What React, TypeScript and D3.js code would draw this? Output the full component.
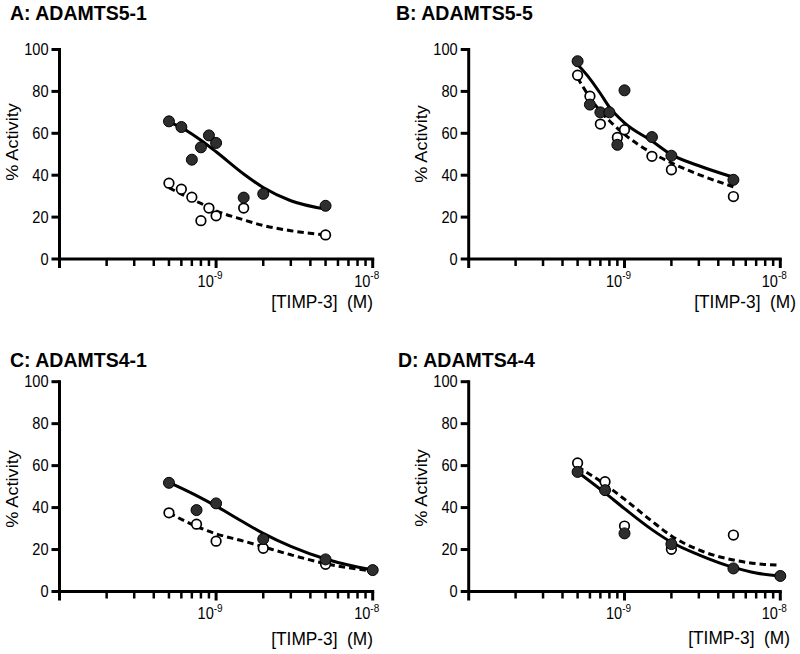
import * as d3 from "d3";

// concentration grids used for the fitted curves
const gridAB = [5e-10, 6e-10, 7e-10, 8e-10, 1e-9, 1.5e-9, 2e-9, 3e-9, 5e-9];
const gridCD = [5e-10, 7.5e-10, 1e-9, 1.5e-9, 2e-9, 3e-9, 5e-9, 7e-9, 1e-8];

// A: ADAMTS5-1
const concA = [5e-10, 6e-10, 7e-10, 8e-10, 9e-10, 1e-9, 1.5e-9, 2e-9, 5e-9];
const filledA = [65.7, 63.0, 47.4, 53.3, 59.0, 55.4, 29.3, 31.1, 25.4];
const openA = [36.2, 33.3, 29.5, 18.3, 24.3, 20.6, 24.3, null, 11.5];
const fitSolidA = [65.5, 62.7, 59.7, 56.7, 51.2, 40.6, 34.1, 27.8, 23.8];
const fitDashA = [34, 31, 28.5, 26.5, 23, 18.7, 16, 13.5, 11.5];

// B: ADAMTS5-5
const concB = [5e-10, 6e-10, 7e-10, 8e-10, 9e-10, 1e-9, 1.5e-9, 2e-9, 5e-9];
const filledB = [94.4, 73.7, 70.0, 70.0, 54.5, 80.5, 58.2, 49.3, 37.8];
const openB = [87.7, 77.7, 64.4, null, 58.0, 61.7, 49.0, 42.6, 29.8];
const fitSolidB = [92.8, 86, 79, 72.5, 65, 56.3, 49.8, 44.5, 39];
const fitDashB = [86.5, 77, 70.5, 66, 59.5, 50.6, 45.9, 40.3, 34.5];

// C: ADAMTS4-1
const concC = [5e-10, 7.5e-10, 1e-9, 2e-9, 5e-9, 1e-8];
const filledC = [51.8, 38.8, 42.0, 25.0, 15.3, 10.2];
const openC = [37.5, 32.1, 24.0, 20.6, 13.0, null];
const fitSolidC = [52, 45.7, 40.7, 33, 27.7, 21.5, 15.5, 12.6, 10.3];
const fitDashC = [37.5, 31, 27.5, 24, 21.3, 17.5, 13.3, 11.3, 9.8];

// D: ADAMTS4-4
const concD = [5e-10, 7.5e-10, 1e-9, 2e-9, 5e-9, 1e-8];
const filledD = [57.0, 48.3, 27.7, 22.6, 11.0, 7.4];
const openD = [61.3, 52.3, 31.2, 20.1, 26.9, null];
const fitSolidD = [57, 47, 39.5, 29.5, 23.5, 17.5, 11.5, 8.8, 7.4];
const fitDashD = [59.5, 51, 44, 33.5, 26.5, 19.8, 15, 13.3, 12.5];

const yTicks = [0, 20, 40, 60, 80, 100];
const xLabelTicks = [1e-9, 1e-8];
const FONT = "Liberation Sans, Arial, Helvetica, sans-serif";

const panels = [
  { title: "A: ADAMTS5-1", titleX: 10, titleY: 20, x0: 59.5, x1: 372.7, yTop: 49.5, yBot: 259,
    labX: 18, labY: 142, axX: 373, axY: 308,
    conc: concA, filled: filledA, open: openA, grid: gridAB, solid: fitSolidA, dashed: fitDashA },
  { title: "B: ADAMTS5-5", titleX: 396, titleY: 20, x0: 468.7, x1: 780.3, yTop: 49.5, yBot: 259,
    labX: 427, labY: 144, axX: 796, axY: 308,
    conc: concB, filled: filledB, open: openB, grid: gridAB, solid: fitSolidB, dashed: fitDashB },
  { title: "C: ADAMTS4-1", titleX: 10, titleY: 367, x0: 59.5, x1: 372.7, yTop: 381.7, yBot: 591.5,
    labX: 18, labY: 489, axX: 373, axY: 645,
    conc: concC, filled: filledC, open: openC, grid: gridCD, solid: fitSolidC, dashed: fitDashC },
  { title: "D: ADAMTS4-4", titleX: 398, titleY: 367, x0: 468.7, x1: 780.3, yTop: 381.7, yBot: 591.5,
    labX: 427, labY: 488, axX: 790, axY: 644,
    conc: concD, filled: filledD, open: openD, grid: gridCD, solid: fitSolidD, dashed: fitDashD },
];

function Panel({ p }) {
  const x = d3.scaleLog().domain([1e-10, 1e-8]).range([p.x0, p.x1]);
  const y = d3.scaleLinear().domain([0, 100]).range([p.yBot, p.yTop]);
  const fit = d3
    .line<number>()
    .x((_, i) => x(p.grid[i]))
    .y((d) => y(d))
    .curve(d3.curveMonotoneX);
  const isMajor = (t: number) => Math.abs(Math.log10(t) - Math.round(Math.log10(t))) < 1e-6;

  return (
    <g>
      <text x={p.titleX} y={p.titleY} fontFamily={FONT} fontWeight="bold" fontSize={19.5}>
        {p.title}
      </text>

      {/* y axis */}
      <line x1={p.x0} x2={p.x0} y1={p.yTop - 1.5} y2={p.yBot} stroke="#000" strokeWidth={3} />
      {yTicks.map((t) => (
        <g key={t}>
          <line x1={p.x0 - 8} x2={p.x0} y1={y(t)} y2={y(t)} stroke="#000" strokeWidth={3} />
          <g transform={`translate(${p.x0 - 11},${y(t) + 5.5}) scale(1,1.1)`}>
            <text textAnchor="end" fontFamily={FONT} fontSize={14.6}>
              {t}
            </text>
          </g>
        </g>
      ))}
      <g transform={`translate(${p.labX},${p.labY}) rotate(-90) scale(1.1,1)`}>
        <text textAnchor="middle" fontFamily={FONT} fontSize={16.5}>
          % Activity
        </text>
      </g>

      {/* x axis */}
      <line x1={p.x0 - 1.5} x2={p.x1 + 1.5} y1={p.yBot} y2={p.yBot} stroke="#000" strokeWidth={3} />
      {x.ticks().map((t) => (
        <line
          key={t}
          x1={x(t)}
          x2={x(t)}
          y1={p.yBot}
          y2={p.yBot + (isMajor(t) ? 9 : 7)}
          stroke="#000"
          strokeWidth={isMajor(t) ? 3 : 2.5}
        />
      ))}
      {xLabelTicks.map((t) => (
        <g key={t} transform={`translate(${x(t) - 6},${p.yBot + 27.5}) scale(1,1.1)`}>
          <text textAnchor="middle" fontFamily={FONT} fontSize={14.6}>
            10
            <tspan dy={-6.5} fontSize={10}>
              {"-" + Math.round(-Math.log10(t))}
            </tspan>
          </text>
        </g>
      ))}
      <g transform={`translate(${p.axX},${p.axY}) scale(1,1.1)`}>
        <text textAnchor="end" fontFamily={FONT} fontSize={17.3} style={{ whiteSpace: "pre" }}>
          {"[TIMP-3]  (M)"}
        </text>
      </g>

      {/* fitted curves */}
      <path d={fit(p.dashed) || ""} fill="none" stroke="#000" strokeWidth={3} strokeDasharray="6.5,4" />
      <path d={fit(p.solid) || ""} fill="none" stroke="#000" strokeWidth={3} />

      {/* data points */}
      {p.open.map((v, i) =>
        v == null ? null : (
          <circle key={"o" + i} cx={x(p.conc[i])} cy={y(v)} r={4.8} fill="#fff" stroke="#000" strokeWidth={1.7} />
        )
      )}
      {p.filled.map((v, i) => (
        <circle key={"f" + i} cx={x(p.conc[i])} cy={y(v)} r={5.5} fill="#2e2e2e" stroke="#000" strokeWidth={1} />
      ))}
    </g>
  );
}

export default function App() {
  return (
    <svg
      width={800}
      height={654}
      style={{ position: "absolute", left: 0, top: 0, background: "#fff" }}
    >
      <rect width={800} height={654} fill="#fff" />
      {panels.map((p) => (
        <Panel key={p.title} p={p} />
      ))}
    </svg>
  );
}
